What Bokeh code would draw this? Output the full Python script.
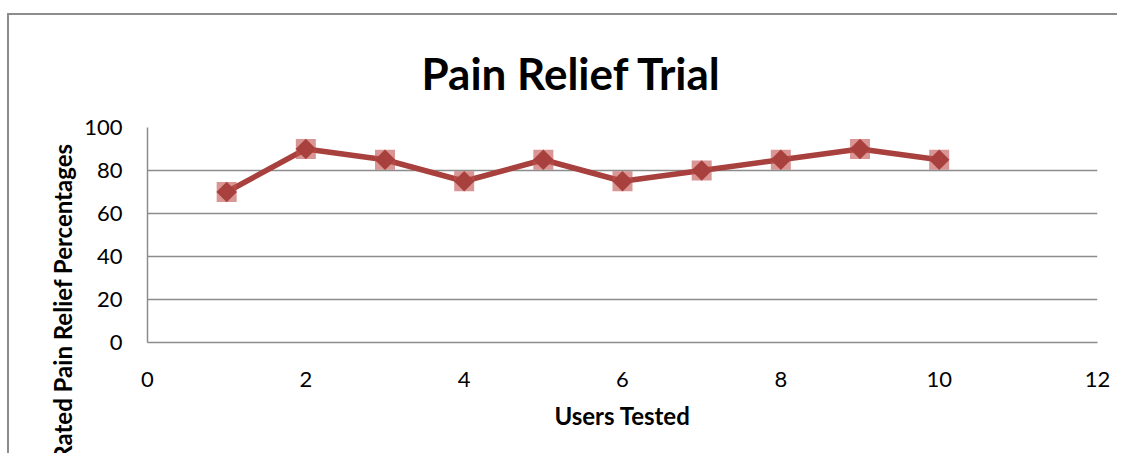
import math
from bokeh.plotting import figure
from bokeh.models import Range1d, FixedTicker, Title
from bokeh.embed import file_html
from bokeh.resources import INLINE

users = [1, 2, 3, 4, 5, 6, 7, 8, 9, 10]
relief = [70, 90, 85, 75, 85, 75, 80, 85, 90, 85]
x_ticks = [0, 2, 4, 6, 8, 10, 12]
y_ticks = [0, 20, 40, 60, 80, 100]
title_text = "Pain Relief Trial"
x_title = "Users Tested"
y_title = "Rated Pain Relief Percentages"

GRID = "#8c8c8c"
LINE = "#A8413E"
FONT = "Lato"

p = figure(width=1110, height=440, output_backend="svg", toolbar_location=None,
           x_range=Range1d(0, 12), y_range=Range1d(0, 100),
           min_border_left=138, min_border_right=22, min_border_top=112, min_border_bottom=113)
p.styles = {"border-top": "2px solid #8c8c8c", "border-left": "2px solid #8c8c8c",
            "margin-top": "13px", "margin-left": "7px"}
p.outline_line_color = None
p.background_fill_color = "white"
p.border_fill_color = "white"

p.xgrid.grid_line_color = None
p.ygrid.grid_line_color = GRID
p.ygrid.grid_line_width = 1.5
p.xaxis.ticker = FixedTicker(ticks=x_ticks)
p.yaxis.ticker = FixedTicker(ticks=y_ticks)
for ax in (p.xaxis[0], p.yaxis[0]):
    ax.axis_line_color = GRID
    ax.axis_line_width = 1.5
    ax.major_tick_line_color = None
    ax.minor_tick_line_color = None
    ax.major_label_text_font = FONT
    ax.major_label_text_font_size = "22px"
    ax.major_label_text_color = "black"
p.xaxis.major_label_standoff = 23
p.yaxis.major_label_standoff = 19
p.xaxis.axis_label = x_title
p.xaxis.axis_label_text_font = FONT
p.xaxis.axis_label_text_font_style = "bold"
p.xaxis.axis_label_text_font_size = "24px"
p.xaxis.axis_label_text_color = "black"
p.xaxis.axis_label_standoff = 11

p.line(users, relief, line_color=LINE, line_width=5.5)
p.scatter(users, relief, marker="square", size=20, fill_color="#C0504D", fill_alpha=0.6, line_color=None)
p.scatter(users, relief, marker="square", angle=math.pi / 4, size=14.5, fill_color=LINE, line_color=None)

p.add_layout(Title(text=title_text, text_font=FONT, text_font_style="bold", text_font_size="44px",
                   text_color="black", align="left", offset=274, standoff=58), "above")
p.add_layout(Title(text=y_title, text_font=FONT, text_font_style="bold", text_font_size="24px",
                   text_color="black", align="right", offset=16, standoff=10), "left")

open("out.html", "w").write(file_html(p, INLINE))
